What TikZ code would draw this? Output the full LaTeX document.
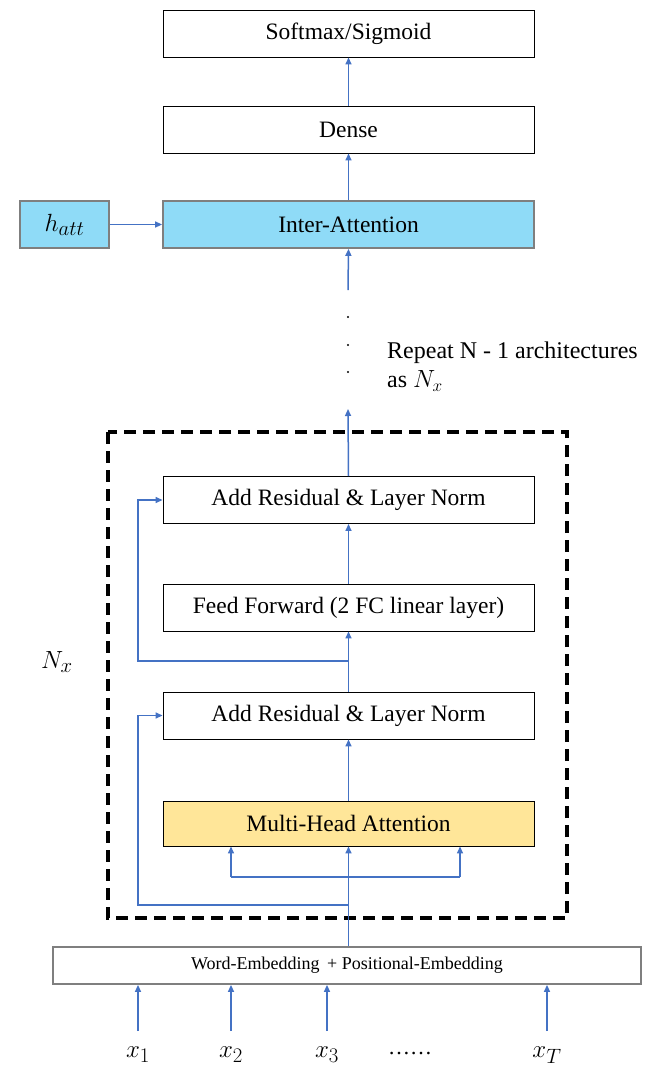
\documentclass[tikz,border=0pt]{standalone}
\usepackage{fontspec}
\setmainfont{Liberation Serif}
\usetikzlibrary{arrows.meta}
\definecolor{arrblue}{HTML}{4472C4}
\definecolor{boxgray}{HTML}{7F7F7F}
\definecolor{lblue}{HTML}{8FDBF7}
\definecolor{lyellow}{HTML}{FFE699}
\begin{document}
\begin{tikzpicture}[x=1pt,y=-1pt,
  blk/.style={draw=black,line width=0.9pt,minimum width=371pt,minimum height=47pt,inner sep=0pt,font=\fontsize{23.5}{28}\selectfont},
  gblk/.style={blk,draw=boxgray,line width=1.8pt},
  arr/.style={draw=arrblue,line width=1.5pt,-{Triangle[length=7pt,width=6pt]}},
  ln/.style={draw=arrblue,line width=1.5pt},
  dotn/.style={circle,fill=black,inner sep=0pt,minimum size=2.4pt},
  lbl/.style={font=\fontsize{24}{28}\selectfont,inner sep=0pt,anchor=west},
  xl/.style={font=\fontsize{29}{33}\selectfont,inner sep=0pt}]
\useasboundingbox (0,0) rectangle (654,1085);
\node[blk] (soft) at (348.5,33.5) {Softmax/Sigmoid};
\node[blk] (dense) at (348.5,129.5) {Dense};
\node[gblk,fill=lblue] (inter) at (348.5,224.5) {Inter-Attention};
\node[gblk,fill=lblue,minimum width=89pt] (hatt) at (64.5,224.5) {\fontsize{28}{32}\selectfont$h_{att}$};
\node[blk] (addu) at (348.5,500) {Add Residual \& Layer Norm};
\node[blk] (ff) at (348.5,607.5) {Feed Forward (2 FC linear layer)};
\node[blk] (addl) at (348.5,715.5) {Add Residual \& Layer Norm};
\node[blk,fill=lyellow,minimum height=45pt] (mha) at (348.5,823.5) {Multi-Head Attention};
\node[gblk,minimum width=588pt,minimum height=37pt,font=\fontsize{18}{21}\selectfont] (emb) at (347,965.5) {Word-Embedding\, + Positional-Embedding};
\draw[black,line width=3.6pt,dash pattern=on 12pt off 7pt] (108,432) rectangle (567,918);
\node[dotn] (d1) at (348,317) {};
\node[dotn] (d2) at (348,345) {};
\node[dotn] (d3) at (348,372) {};
\node[lbl] (rep1) at (387,353) {Repeat N - 1 architectures};
\node[lbl] (rep2) at (387,381) {as $N_x$};
\node[xl] (nx) at (57,662) {$N_x$};
\node[xl] (x1) at (138,1055) {$x_1$};
\node[xl] (x2) at (231,1055) {$x_2$};
\node[xl] (x3) at (327,1055) {$x_3$};
\node[font=\fontsize{22}{26}\selectfont] (xd) at (410,1053) {\dots\dots};
\node[xl] (xT) at (547,1055) {$x_T$};
\coordinate (s1) at (138,1031);
\coordinate (s2) at (231,1031);
\coordinate (s3) at (327,1031);
\coordinate (sT) at (547,1031);
\foreach \s in {s1,s2,s3,sT} \draw[arr] (\s) -- (\s |- emb.south);
% top chain
\draw[arr] (dense.north) -- (soft.south);
\draw[arr] (inter.north) -- (dense.south);
\draw[arr] (hatt.east) -- (inter.west);
\coordinate (dotend) at (348,290);
\draw[arr] (dotend) -- (inter.south);
\coordinate (topend) at (348,409);
\draw[arr] (addu.north) -- (topend);
% encoder block
\draw[arr] (ff.north) -- (addu.south);
\draw[arr] (addl.north) -- (ff.south);
\draw[arr] (mha.north) -- (addl.south);
\draw[arr] (mha.south |- emb.north) -- (mha.south);
\coordinate (bl) at (231,877);
\coordinate (br) at (460,877);
\draw[ln] (bl) -- (br);
\draw[arr] (bl) -- (bl |- mha.south);
\draw[arr] (br) -- (br |- mha.south);
\coordinate (r1) at (348,905);
\coordinate (r1l) at (138,905);
\draw[arr] (r1) -- (r1l) |- (addl.west);
\coordinate (r2) at (348,661);
\coordinate (r2l) at (138,661);
\draw[arr] (r2) -- (r2l) |- (addu.west);
\end{tikzpicture}
\end{document}
